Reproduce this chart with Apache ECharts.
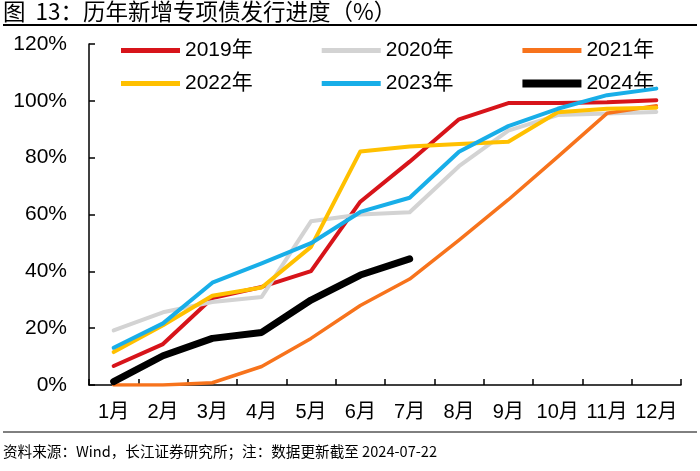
<!DOCTYPE html>
<html>
<head>
<meta charset="utf-8">
<script src="https://cdn.jsdelivr.net/npm/echarts@6/dist/echarts.min.js"></script>
<style>
html,body{margin:0;padding:0;background:#fff;}
#chart{width:700px;height:471px;}
</style>
</head>
<body>
<div id="chart"></div>
<script>
var categories = ['1月','2月','3月','4月','5月','6月','7月','8月','9月','10月','11月','12月'];
var yTickLabels = ['0%','20%','40%','60%','80%','100%','120%'];
var s2019 = [6.7, 14.4, 30.6, 34.5, 40.1, 64.5, 78.6, 93.5, 99.2, 99.2, 99.5, 100.2];
var s2020 = [19.2, 25.6, 29.2, 31.0, 57.6, 60.0, 60.8, 77.0, 89.5, 95.0, 95.5, 96.1];
var s2021 = [0, 0, 0.8, 6.5, 16.4, 28.0, 37.3, 51.0, 65.2, 80.3, 95.6, 98.3];
var s2022 = [11.6, 21.0, 31.4, 34.3, 48.6, 82.2, 83.9, 84.8, 85.6, 96.0, 97.2, 97.6];
var s2023 = [13.1, 21.7, 36.0, 42.8, 49.9, 60.9, 65.9, 82.1, 91.1, 97.2, 102.0, 104.3];
var s2024 = [1.2, 10.3, 16.4, 18.5, 29.9, 38.7, 44.4];

var chart = echarts.init(document.getElementById('chart'));
var fontLatin = '"Liberation Sans","Noto Sans CJK SC",sans-serif';
function mk(name, data, color, width) {
  return {
    name: name, type: 'line', data: data, symbol: 'none',
    lineStyle: {color: color, width: width, cap: 'round', join: 'round'},
    itemStyle: {color: color}, z: name === '2024年' ? 10 : 5
  };
}
function legendRow(top, names, thick) {
  return {
    show: true, orient: 'horizontal',
    left: 116, top: top,
    itemWidth: 59, itemHeight: 14, itemGap: 69,
    textStyle: {fontSize: 21, color: '#000', fontFamily: fontLatin},
    data: names.map(function (n, i) {
      var h = thick[i];
      return {name: n, icon: 'path://M0,' + (-h/2) + ' L59,' + (-h/2) + ' L59,' + (h/2) + ' L0,' + (h/2) + ' Z'};
    })
  };
}
chart.setOption({
  animation: false,
  backgroundColor: '#fff',
  grid: {left: 89, right: 19, top: 44, bottom: 86},
  legend: [
    legendRow(35, ['2019年','2020年','2021年'], [5,5,5]),
    legendRow(68, ['2022年','2023年','2024年'], [5,5,8])
  ],
  xAxis: {
    type: 'category', data: categories, boundaryGap: true,
    axisLine: {lineStyle: {color: '#000', width: 1.5}},
    axisTick: {show: true, inside: true, length: 6, lineStyle: {color: '#000', width: 1.5}},
    axisLabel: {fontSize: 20, color: '#000', margin: 17, fontFamily: fontLatin, interval: 0},
    splitLine: {show: false}
  },
  yAxis: {
    type: 'value', min: 0, max: 120, interval: 20,
    axisLine: {show: true, lineStyle: {color: '#000', width: 1.5}},
    axisTick: {show: true, inside: true, length: 6, lineStyle: {color: '#000', width: 1.5}},
    axisLabel: {fontSize: 21, color: '#000', margin: 22, fontFamily: fontLatin,
      formatter: function (v) { return yTickLabels[Math.round(v / 20)]; }},
    splitLine: {show: false}
  },
  series: [
    mk('2019年', s2019, '#D7141A', 4),
    mk('2020年', s2020, '#D3D3D3', 4),
    mk('2021年', s2021, '#F7731C', 3.5),
    mk('2022年', s2022, '#FFC000', 4),
    mk('2023年', s2023, '#18AEE8', 4),
    mk('2024年', s2024, '#000000', 7)
  ],
  graphic: [
    {type: 'text', left: 3, top: 0, style: {text: '图  13：历年新增专项债发行进度（%）', font: '22.5px "Noto Sans CJK SC", sans-serif', fill: '#000'}},
    {type: 'line', shape: {x1: 3, y1: 25, x2: 697, y2: 25}, style: {stroke: '#000', lineWidth: 2}},
    {type: 'line', shape: {x1: 3, y1: 432, x2: 697, y2: 432}, style: {stroke: '#000', lineWidth: 1}},
    {type: 'text', left: 3, top: 444, style: {text: '资料来源：Wind，长江证券研究所；注：数据更新截至 2024-07-22', font: '14.6px "Noto Sans CJK SC", sans-serif', fill: '#000'}}
  ]
});
</script>
</body>
</html>
